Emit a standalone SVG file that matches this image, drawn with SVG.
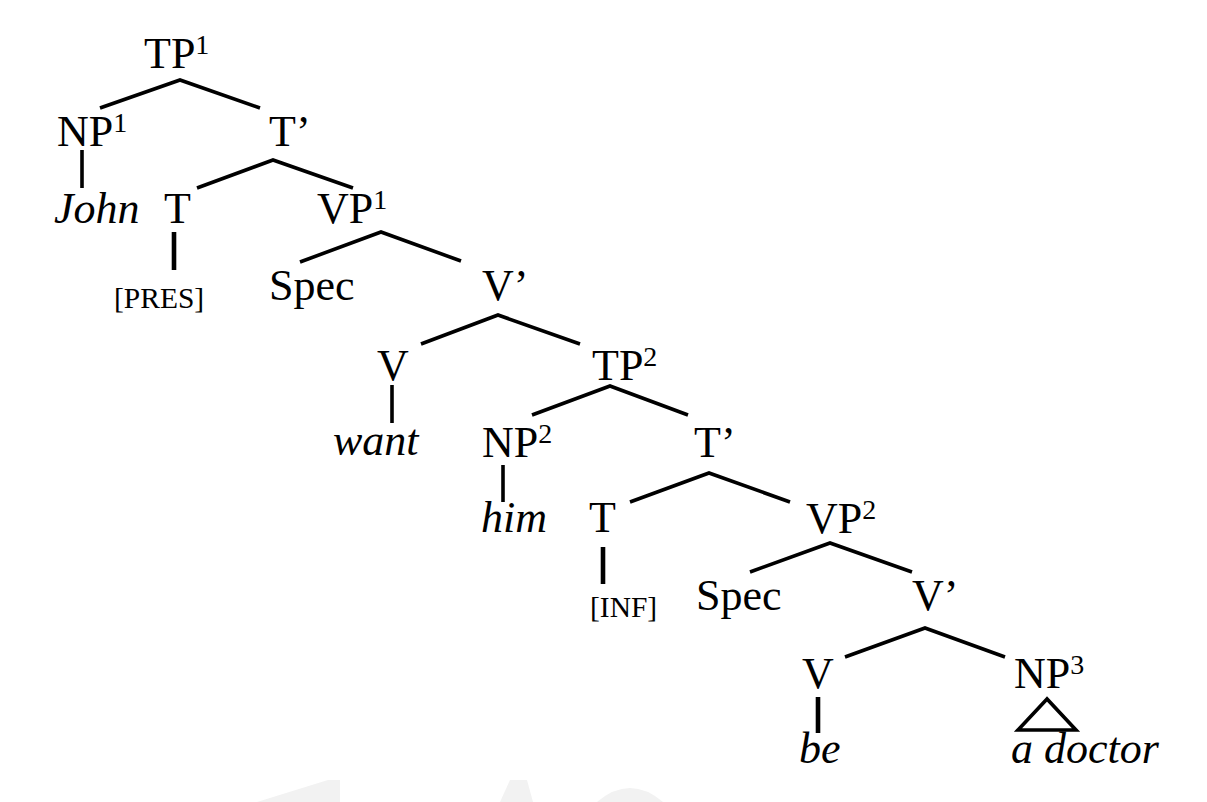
<svg xmlns="http://www.w3.org/2000/svg" width="1207" height="802" viewBox="0 0 1207 802">
<style>
.t{font-family:"Liberation Serif","Times New Roman",serif;font-size:44px;fill:#000}
.i{font-style:italic}
.f{font-size:29.5px}
.s{font-size:28px}
.e{fill:none;stroke:#000;stroke-width:3.6;stroke-linejoin:miter;stroke-linecap:butt}
.v{stroke-width:4.6}
.wm{fill:#f2f2f2}
</style>
<rect width="1207" height="802" fill="#fff"/>
<g id="watermark">
<polygon class="wm" points="257,802 328,780 340,780 340,802"/>
<polygon class="wm" points="500,802 510,780 527,780 533,802"/>
<path class="wm" d="M597,802 Q630,774 663,802 Z"/>
</g>
<g id="connectors">
<polyline class="e" points="100,108 180,80 260,108"/>
<line class="e" x1="82" y1="150" x2="82" y2="188"/>
<polyline class="e" points="197,188 273,160 353,188"/>
<line class="e v" x1="174" y1="232" x2="174" y2="270"/>
<polyline class="e" points="300,262 381,232 461,261"/>
<polyline class="e" points="421,344 498,315 580,344"/>
<line class="e" x1="392" y1="385" x2="392" y2="423"/>
<polyline class="e" points="532,415 610,386 688,415"/>
<line class="e" x1="503" y1="465" x2="503" y2="502"/>
<polyline class="e" points="630,502 709,473 790,502"/>
<line class="e v" x1="603" y1="547" x2="603" y2="584"/>
<polyline class="e" points="750,572 830,543 912,572"/>
<polyline class="e" points="845,657 925,628 1005,657"/>
<line class="e v" x1="818" y1="697" x2="818" y2="733"/>
<polygon class="e" points="1047,699 1018,730 1076,730"/>
</g>
<g id="TP1"><text class="t" x="144" y="68">TP<tspan class="s" dy="-14">1</tspan></text></g>
<g id="NP1"><text class="t" x="57" y="146">NP<tspan class="s" dy="-14">1</tspan></text></g>
<g id="Tbar1"><text class="t" x="269" y="146">T’</text></g>
<g id="John"><text class="t i" x="54" y="223">John</text></g>
<g id="T1"><text class="t" x="164" y="223">T</text></g>
<g id="VP1"><text class="t" x="317" y="223">VP<tspan class="s" dy="-14">1</tspan></text></g>
<g id="PRES"><text class="t f" x="114" y="308">[PRES]</text></g>
<g id="Spec1"><text class="t" x="269" y="300">Spec</text></g>
<g id="Vbar1"><text class="t" x="482" y="300">V’</text></g>
<g id="V1"><text class="t" x="377" y="380">V</text></g>
<g id="TP2"><text class="t" x="592" y="380">TP<tspan class="s" dy="-14">2</tspan></text></g>
<g id="want"><text class="t i" x="333" y="455">want</text></g>
<g id="NP2"><text class="t" x="482" y="457">NP<tspan class="s" dy="-14">2</tspan></text></g>
<g id="Tbar2"><text class="t" x="694" y="457">T’</text></g>
<g id="him"><text class="t i" x="481" y="532">him</text></g>
<g id="T2"><text class="t" x="589" y="532">T</text></g>
<g id="VP2"><text class="t" x="806" y="533">VP<tspan class="s" dy="-14">2</tspan></text></g>
<g id="INF"><text class="t f" x="590" y="617">[INF]</text></g>
<g id="Spec2"><text class="t" x="696" y="610">Spec</text></g>
<g id="Vbar2"><text class="t" x="912" y="610">V’</text></g>
<g id="V2"><text class="t" x="802" y="688">V</text></g>
<g id="NP3"><text class="t" x="1014" y="688">NP<tspan class="s" dy="-14">3</tspan></text></g>
<g id="be"><text class="t i" x="799" y="763">be</text></g>
<g id="adoctor"><text class="t i" x="1011" y="763">a doctor</text></g>
</svg>
